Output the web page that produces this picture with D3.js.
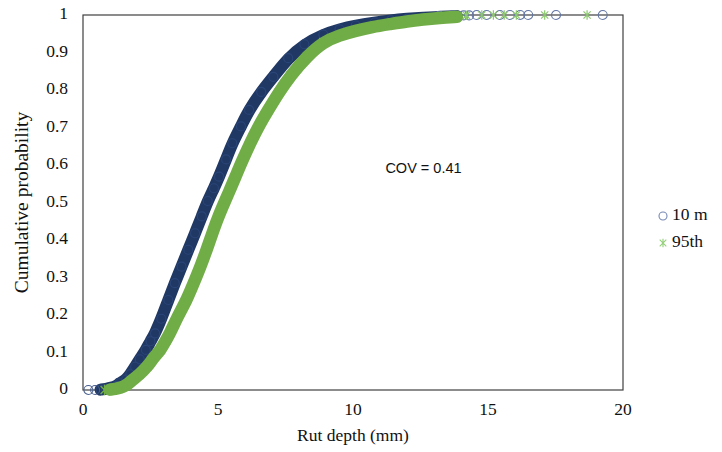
<!DOCTYPE html>
<html>
<head>
<meta charset="utf-8">
<script src="https://cdn.jsdelivr.net/npm/d3@7"></script>
<style>
  body { margin: 0; background: #fff; }
  svg { display: block; }
</style>
</head>
<body>
<div id="chart"></div>
<script>
// rut depth (mm) and cumulative probability
var depth10m = [0.2, 0.45, 0.65, 0.85, 1.05, 1.25, 1.35, 1.6, 1.75, 1.93, 2.1, 2.33, 2.5, 2.67, 2.9, 3.16, 3.4, 3.65, 3.9, 4.15, 4.4, 4.62, 4.85, 5.04, 5.3, 5.53, 5.85, 6.15, 6.6, 7.05, 7.6, 8.2, 8.9, 9.5, 10.1, 10.8, 11.4, 12.0, 12.6, 13.2, 13.85];
var prob10m  = [0, 0, 0.001, 0.003, 0.006, 0.011, 0.018, 0.028, 0.042, 0.062, 0.082, 0.107, 0.13, 0.151, 0.19, 0.24, 0.285, 0.329, 0.374, 0.418, 0.463, 0.504, 0.538, 0.569, 0.615, 0.658, 0.703, 0.747, 0.795, 0.835, 0.885, 0.922, 0.948, 0.962, 0.972, 0.98, 0.986, 0.99, 0.993, 0.995, 0.997];
var tailDepth10m = [13.2, 13.7, 14.1, 14.3, 14.58, 14.95, 15.44, 15.81, 16.19, 16.49, 17.52, 19.25];
var tailProb10m  = [0.998, 0.999, 0.999, 0.999, 1, 1, 1, 1, 1, 1, 1, 1];

var depth95 = [0.8, 1.0, 1.2, 1.4, 1.6, 1.8, 2.1, 2.38, 2.6, 2.88, 3.05, 3.22, 3.5, 3.84, 4.1, 4.35, 4.57, 4.79, 5.0, 5.25, 5.45, 5.65, 5.9, 6.19, 6.5, 6.86, 7.25, 7.7, 8.3, 8.9, 9.5, 10.1, 10.7, 11.4, 12.0, 12.6, 13.2, 13.85];
var prob95  = [0, 0.001, 0.003, 0.006, 0.012, 0.025, 0.042, 0.062, 0.085, 0.107, 0.13, 0.151, 0.195, 0.24, 0.285, 0.329, 0.372, 0.418, 0.46, 0.502, 0.535, 0.569, 0.612, 0.658, 0.703, 0.747, 0.793, 0.84, 0.89, 0.928, 0.946, 0.958, 0.968, 0.976, 0.983, 0.988, 0.992, 0.995];
var tailDepth95 = [14.2, 14.77, 15.2, 15.6, 16.05, 17.1, 18.67];
var tailProb95  = [0.999, 1, 1, 1, 1, 1, 1];

var xTicks = [0, 5, 10, 15, 20];
var yTicks = [0, 0.1, 0.2, 0.3, 0.4, 0.5, 0.6, 0.7, 0.8, 0.9, 1];

var W = 722, H = 452;
var margin = { top: 15, right: 99, bottom: 62, left: 83 },
    width = W - margin.left - margin.right,
    height = H - margin.top - margin.bottom;

var x = d3.scaleLinear().domain([0, 20]).range([0, width]);
var y = d3.scaleLinear().domain([0, 1]).range([height, 0]);

var zip = (a, b) => a.map((v, i) => [v, b[i]]);
var pts10m = zip(depth10m, prob10m), tail10m = zip(tailDepth10m, tailProb10m);
var pts95 = zip(depth95, prob95), tail95 = zip(tailDepth95, tailProb95);

var svg = d3.select("#chart").append("svg")
    .attr("width", W).attr("height", H);

var g = svg.append("g")
    .attr("transform", "translate(" + margin.left + "," + margin.top + ")");

// plot frame
g.append("rect")
    .attr("width", width).attr("height", height)
    .attr("fill", "none").attr("stroke", "#404040").attr("stroke-width", 1.2);

var serif = "'Liberation Serif', 'Times New Roman', serif";

// tick labels
g.selectAll(".xt").data(xTicks).join("text")
    .attr("x", d => x(d)).attr("y", height + 21)
    .attr("text-anchor", "middle").attr("dominant-baseline", "middle")
    .style("font-family", serif).style("font-size", "17.5px").attr("fill", "#111")
    .text(d => d);

g.selectAll(".yt").data(yTicks).join("text")
    .attr("x", -15).attr("y", d => y(d))
    .attr("text-anchor", "end").attr("dominant-baseline", "middle")
    .style("font-family", serif).style("font-size", "17.5px").attr("fill", "#111")
    .text(d => d);

svg.append("text")
    .attr("x", margin.left + x(10)).attr("y", 437)
    .attr("text-anchor", "middle").attr("dominant-baseline", "middle")
    .style("font-family", serif).style("font-size", "17.5px").attr("fill", "#111")
    .text("Rut depth (mm)");

svg.append("text")
    .attr("transform", "translate(24," + (margin.top + y(0.5)) + ") rotate(-90)")
    .attr("text-anchor", "middle").attr("dominant-baseline", "middle")
    .style("font-family", serif).style("font-size", "19.5px").attr("fill", "#111")
    .text("Cumulative probability");

var line = d3.line().x(d => x(d[0])).y(d => y(d[1])).curve(d3.curveBasis);
var star = s => "M" + (-s) + "," + (-s) + "L" + s + "," + s +
    "M" + (-s) + "," + s + "L" + s + "," + (-s) + "M0," + (-s * 1.3) + "L0," + (s * 1.3);

// 10 m series: dense band of circles
g.append("path")
    .datum(pts10m.filter(d => d[1] > 0))
    .attr("d", line)
    .attr("fill", "none").attr("stroke", "#203864")
    .attr("stroke-width", 12).attr("stroke-linecap", "round");

g.selectAll(".c10").data(pts10m).join("circle")
    .attr("cx", d => x(d[0])).attr("cy", d => y(d[1])).attr("r", 4.5)
    .attr("fill", "none").attr("stroke", d => d[1] > 0 ? "#2a4578" : "#4a5f90")
    .attr("stroke-width", 1.1);

g.selectAll(".t10").data(tail10m).join("circle")
    .attr("cx", d => x(d[0])).attr("cy", d => y(d[1])).attr("r", 4.5)
    .attr("fill", "none").attr("stroke", "#6276a6").attr("stroke-width", 1.1);

// 95th series: band of stars on top
g.append("path")
    .datum(pts95.filter(d => d[1] > 0))
    .attr("d", line)
    .attr("fill", "none").attr("stroke", "#70ad47")
    .attr("stroke-width", 12.5).attr("stroke-linecap", "round");

g.selectAll(".s95").data(pts95).join("path")
    .attr("transform", d => "translate(" + x(d[0]) + "," + y(d[1]) + ")")
    .attr("d", star(4)).attr("fill", "none")
    .attr("stroke", "#70ad47").attr("stroke-width", 1.5);

g.selectAll(".t95").data(tail95).join("path")
    .attr("transform", d => "translate(" + x(d[0]) + "," + y(d[1]) + ")")
    .attr("d", star(3.6)).attr("fill", "none")
    .attr("stroke", "#8cc96e").attr("stroke-width", 1.2);

// annotation
g.append("text")
    .attr("x", x(11.2)).attr("y", y(0.588))
    .attr("dominant-baseline", "middle")
    .style("font-family", "'Liberation Sans', Arial, sans-serif").style("font-size", "14.5px")
    .attr("fill", "#111")
    .text("COV = 0.41");

// legend
var legend = svg.append("g").attr("transform", "translate(663,216)");
legend.append("circle").attr("cx", 0).attr("cy", 0).attr("r", 4)
    .attr("fill", "none").attr("stroke", "#7588b5").attr("stroke-width", 1.1);
legend.append("text").attr("x", 9).attr("y", 0).attr("dominant-baseline", "middle")
    .style("font-family", serif).style("font-size", "17.5px").attr("fill", "#111")
    .text("10 m");
legend.append("path").attr("transform", "translate(0,27)")
    .attr("d", star(3.3)).attr("fill", "none")
    .attr("stroke", "#93cf78").attr("stroke-width", 1.1);
legend.append("text").attr("x", 9).attr("y", 27).attr("dominant-baseline", "middle")
    .style("font-family", serif).style("font-size", "17.5px").attr("fill", "#111")
    .text("95th");
</script>
</body>
</html>
